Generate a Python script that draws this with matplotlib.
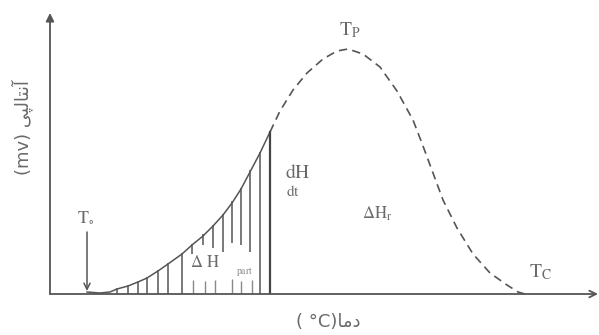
import matplotlib
matplotlib.use("Agg")
import matplotlib.pyplot as plt

plt.rcParams['mathtext.fontset'] = 'stix'
plt.rcParams['font.family'] = ['DejaVu Sans']

# ---- data (temperature, signal) in arbitrary units ----
solid_T = [37, 50, 60, 67, 78, 88, 97, 108, 118, 132, 142, 153, 163, 173, 182, 191, 200, 210, 220]
solid_S = [2, 1, 2, 5, 8, 12, 16, 23, 30, 40, 49, 58, 68, 79, 91, 105, 122, 141, 162]

dashed_T = [220, 230, 243, 257, 273, 287, 298, 313, 330, 347, 363, 373, 383, 393, 407, 423, 440, 457, 468, 475]
dashed_S = [162, 183, 204, 221, 235, 243, 245, 240, 227, 203, 174, 148, 121, 94, 66, 40, 21, 9, 2, 0]

# full hatch lines (baseline -> curve)
hatch_T = [67, 78, 88, 97, 108, 118, 132, 210, 220]
hatch_top = [6, 9, 13, 17, 24, 31, 41, 142, 163]

# broken hatch lines above the ΔH label
upper_T = [142, 153, 163, 173, 182, 191, 200]
upper_top = [50, 60, 69, 80, 93, 106, 124]
upper_bot = [40, 49, 46, 42, 51, 49, 42]

# short stubs under the ΔH label
stub_T = [143, 155, 165, 182, 191, 202]
stub_top = [14, 13, 14, 15, 13, 14]

line_c = '#555555'
text_c = '#6a6a6a'

fig = plt.figure(figsize=(5.99, 3.35), dpi=100)
ax = fig.add_axes([50/599, 41/335, 549/599, 294/335])
ax.set_xlim(0, 549)
ax.set_ylim(0, 294)
ax.axis('off')

# axes arrows
ax.annotate('', xy=(0, 281), xytext=(0, 0),
            arrowprops=dict(arrowstyle='-|>', color='#555555', lw=1.3,
                            mutation_scale=12, shrinkA=0, shrinkB=0),
            annotation_clip=False)
ax.annotate('', xy=(548, 0), xytext=(0, 0),
            arrowprops=dict(arrowstyle='->', color='#555555', lw=1.3,
                            mutation_scale=12, shrinkA=0, shrinkB=0),
            annotation_clip=False)

# curve
ax.plot(solid_T, solid_S, color=line_c, lw=1.1, clip_on=False)
ax.plot(dashed_T, dashed_S, color=line_c, lw=1.2, dashes=(5, 3.2), clip_on=False)

# hatching
ax.vlines(hatch_T, 0, hatch_top, color=line_c, lw=1.1)
ax.vlines(upper_T, upper_bot, upper_top, color=line_c, lw=1.1)
ax.vlines(stub_T, 1, stub_top, color='#888888', lw=1.0)
ax.vlines([220], 0, 163, color='#444444', lw=1.6)

# T0 arrow
ax.annotate('', xy=(37, 3), xytext=(37, 62),
            arrowprops=dict(arrowstyle='->', color=line_c, lw=1.1,
                            mutation_scale=11, shrinkA=0, shrinkB=0))

# labels
ax.text(36, 76, r'$\mathrm{T}_{\circ}$', fontsize=13, color=text_c, ha='center', va='center')
ax.text(300, 264, r'$\mathrm{T_P}$', fontsize=14, color=text_c, ha='center', va='center')
ax.text(490, 22, r'$\mathrm{T_C}$', fontsize=14, color=text_c, ha='center', va='center')
ax.text(235, 122, r'$\mathrm{dH}$', fontsize=14, color=text_c, ha='left', va='center')
ax.text(236, 102, r'$\mathrm{dt}$', fontsize=11, color=text_c, ha='left', va='center')
ax.text(327, 80, r'$\mathrm{\Delta H_r}$', fontsize=12, color=text_c, ha='center', va='center')
ax.text(155, 32, r'$\mathrm{\Delta\ H}$', fontsize=12, color=text_c, ha='center', va='center')
ax.text(195, 23, r'$\mathrm{part}$', fontsize=7, color='#888888', ha='center', va='center')

# axis titles (Persian, presentation forms in visual order)
ylab = '(mv) ' + '\uFBFD\uFB59\uFEDF\uFE8E\uFE98\uFEE7\uFE81'
xlab = '( \u00b0C)' + '\uFE8E\uFEE3\uFEA9'
fig.text(22/599, 1 - 128/335, ylab, rotation=90, fontsize=13, color=text_c,
         ha='center', va='center', family=['DejaVu Sans'])
fig.text(328/599, 1 - 322/335, xlab, fontsize=13, color=text_c,
         ha='center', va='center', family=['DejaVu Sans'])

fig.savefig('out.png', dpi=100)
